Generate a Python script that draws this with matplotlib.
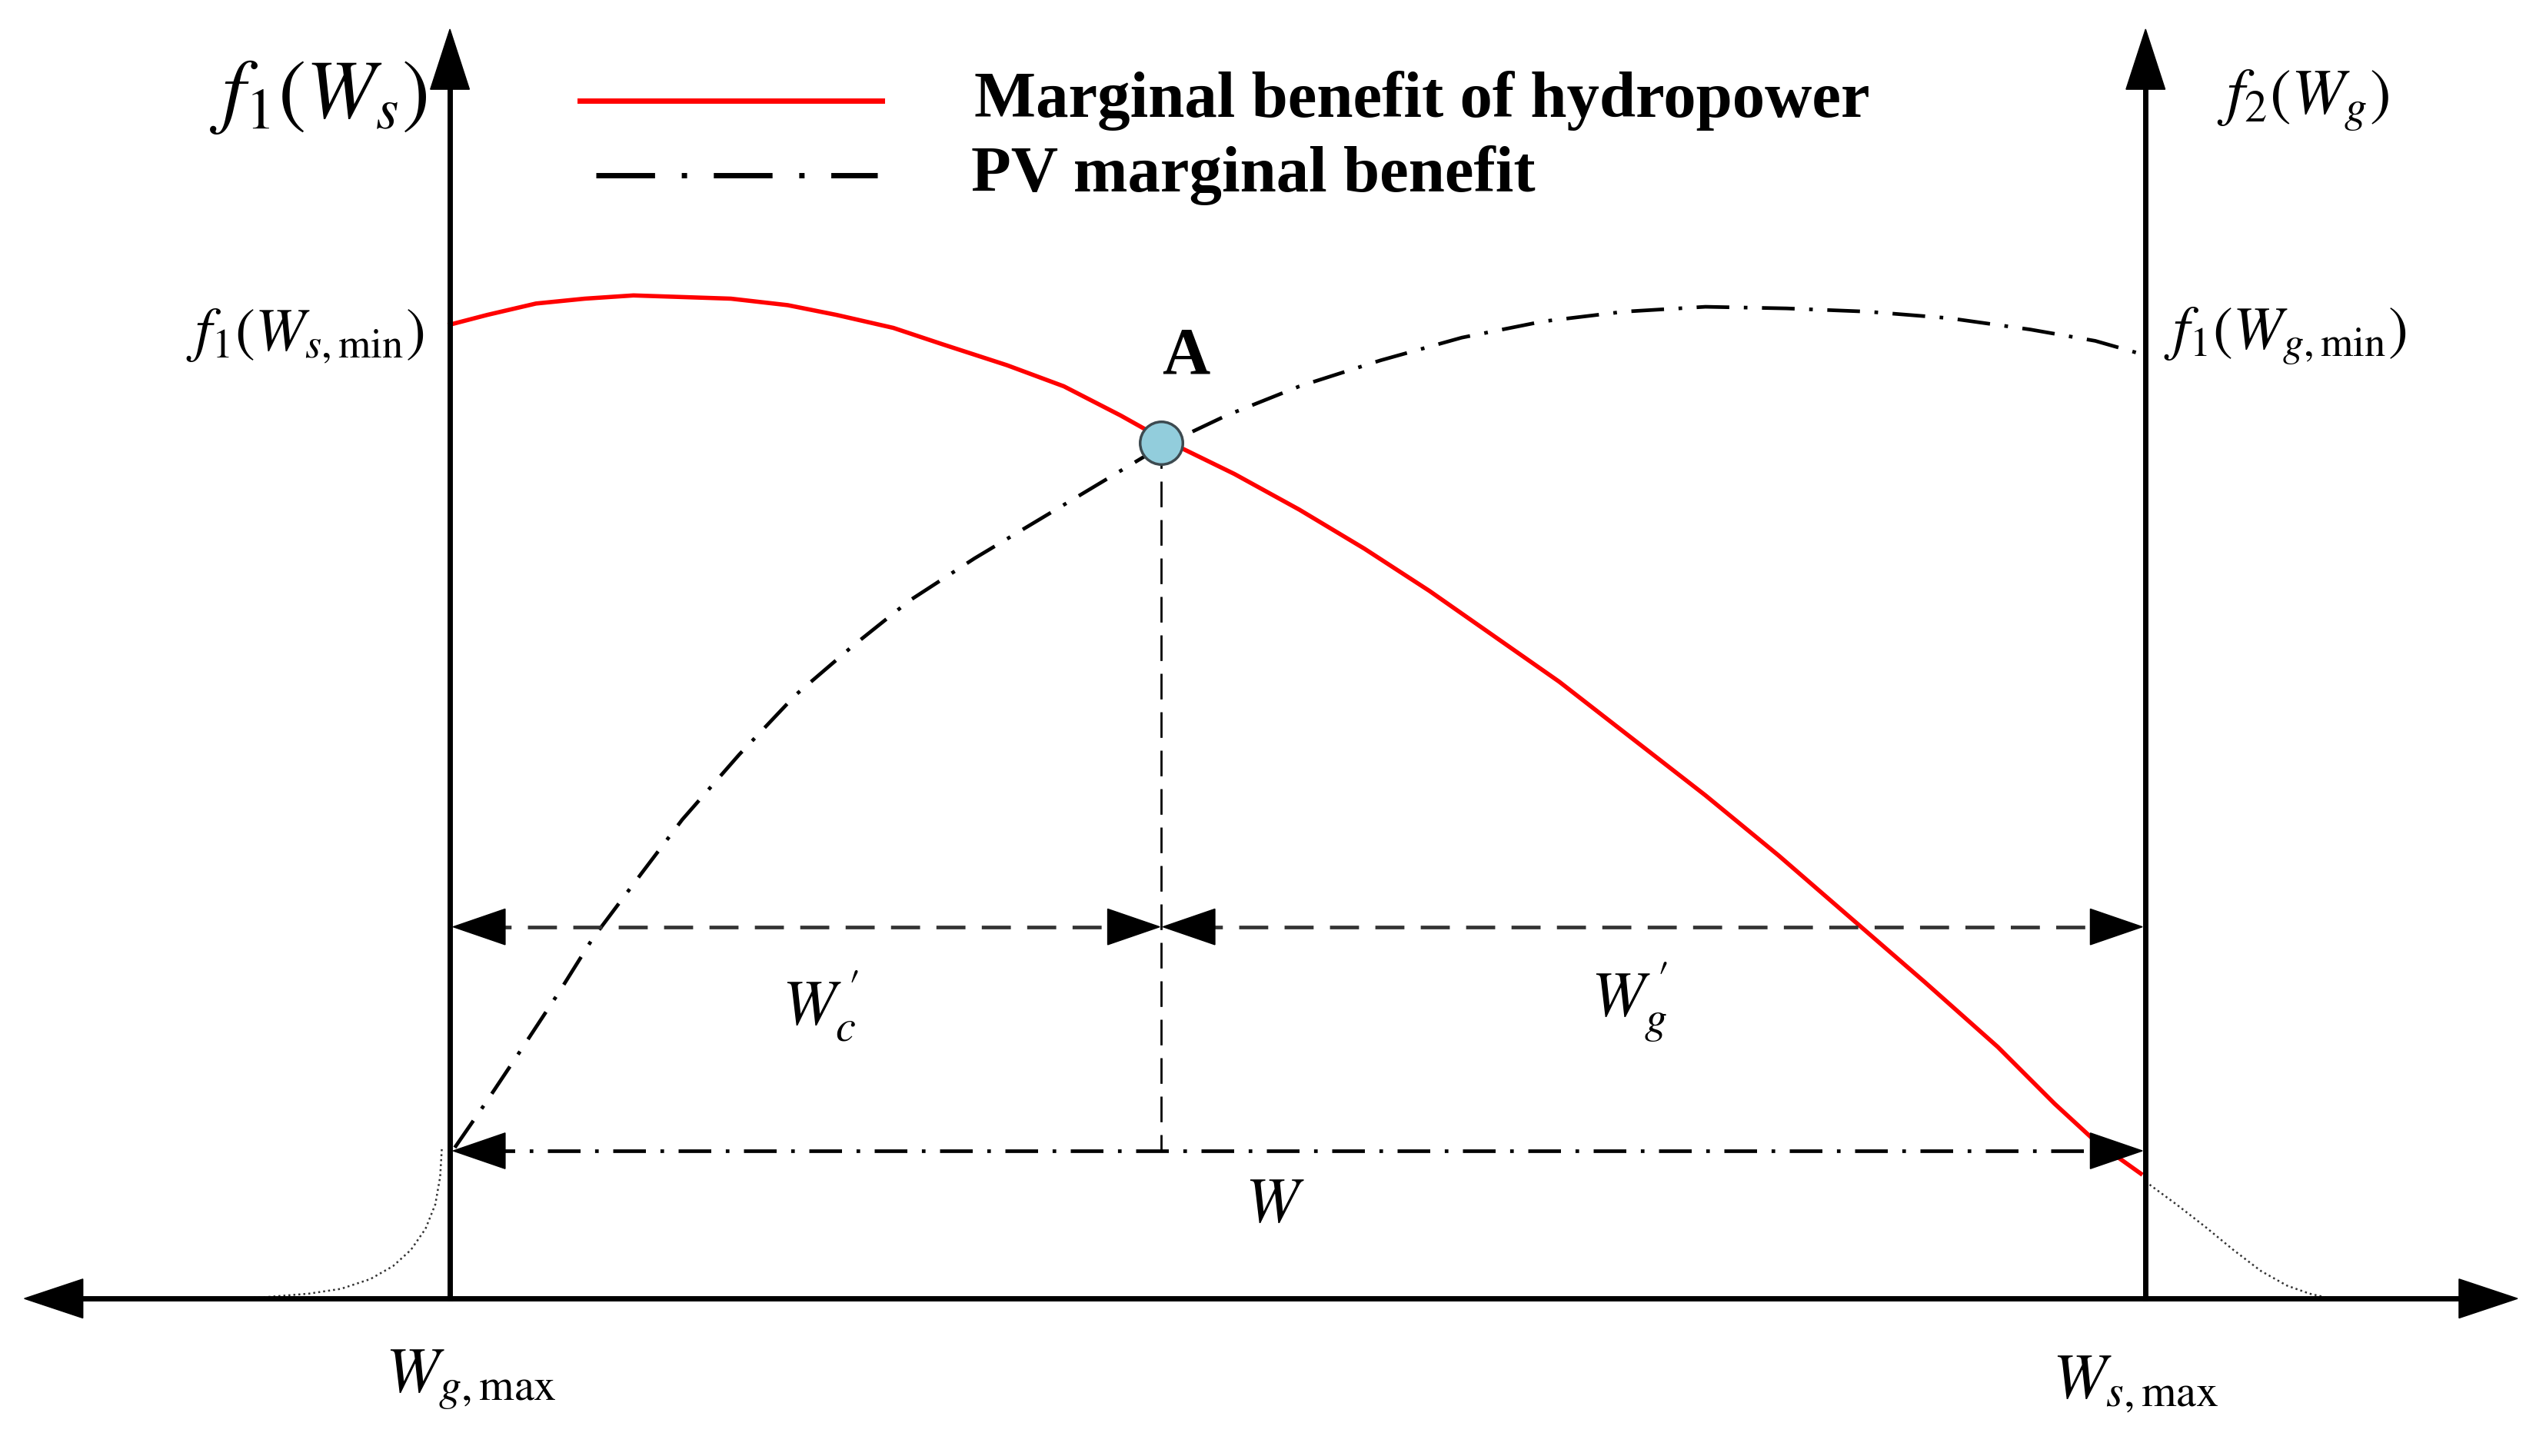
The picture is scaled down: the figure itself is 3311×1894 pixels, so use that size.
import numpy as np
import matplotlib.pyplot as plt
from matplotlib.patches import Polygon

plt.rcParams['mathtext.fontset'] = 'stix'
plt.rcParams['font.family'] = ['Liberation Serif', 'DejaVu Serif']

# schematic drawn in the reference's own pixel frame (1568 x 897, y down)
W_FRAME, H_FRAME = 1568, 897
x_left_axis = 277
x_right_axis = 1321
y_base = 800

# marginal benefit of hydropower (red)
hydro_x = [277, 300, 330, 360, 390, 420, 450, 485, 515, 550, 580, 620, 655, 690, 715,
           760, 800, 840, 880, 920, 960, 1005, 1050, 1095, 1140, 1185, 1230, 1265, 1290, 1318]
hydro_y = [200, 194, 187, 184, 182, 183, 184, 188, 194, 202, 212, 225, 238, 256, 270,
           292, 314, 338, 364, 392, 420, 455, 490, 527, 566, 605, 645, 680, 703, 723]

# PV marginal benefit (black dash-dot)
pv_x = [280, 300, 320, 345, 365, 395, 420, 455, 490, 525, 560, 600, 640, 680, 715,
        755, 800, 850, 900, 950, 1000, 1050, 1100, 1150, 1200, 1250, 1290, 1318]
pv_y = [707, 678, 648, 610, 578, 538, 505, 465, 428, 398, 370, 344, 320, 296, 275,
        256, 238, 222, 208, 198, 192, 189, 190, 192, 196, 203, 210, 218]

# dotted tails outside the axes
tail_left_x = [272, 271, 268, 262, 253, 242, 228, 210, 190, 165, 140, 115]
tail_left_y = [708, 725, 742, 757, 770, 780, 788, 794, 797, 799, 800, 800]
tail_right_x = [1321, 1340, 1358, 1375, 1392, 1408, 1422, 1435, 1450, 1470]
tail_right_y = [728, 742, 756, 770, 783, 792, 797, 800, 800, 800]

point_a = (715, 273)
y_split = 571      # W_c' / W_g' arrows
y_total = 709      # W arrow

dashdot = (9, 4, 1, 4)

fig = plt.figure(figsize=(33.12, 18.94), dpi=100)
ax = fig.add_axes([0, 0, 1, 1])
ax.set_xlim(0, W_FRAME)
ax.set_ylim(H_FRAME, 0)
ax.axis('off')


def head(x, y, dx, dy, L=35, W=12):
    # filled triangular arrow head, tip at (x, y)
    bx, by = x - L * dx, y - L * dy
    px, py = -dy, dx
    tri = Polygon([[x, y], [bx + W * px, by + W * py], [bx - W * px, by - W * py]],
                  closed=True, color='black', zorder=6)
    ax.add_patch(tri)


# axes
ax.plot([x_left_axis, x_left_axis], [y_base, 50], color='black', lw=5, zorder=4)
ax.plot([x_right_axis, x_right_axis], [y_base, 50], color='black', lw=5, zorder=4)
ax.plot([45, 1520], [y_base, y_base], color='black', lw=5, zorder=4)
head(x_left_axis, 18, 0, -1, L=37, W=12)
head(x_right_axis, 18, 0, -1, L=37, W=12)
head(15, y_base, -1, 0, L=36, W=12)
head(1550, y_base, 1, 0, L=36, W=12)

# curves
ax.plot(hydro_x, hydro_y, color='#ff0000', lw=4, zorder=3)
ax.plot(pv_x, pv_y, color='black', lw=3.4, dashes=dashdot, zorder=3)
ax.plot(tail_left_x, tail_left_y, color='#333333', lw=1.8, dashes=(1, 1.6), zorder=2)
ax.plot(tail_right_x, tail_right_y, color='#333333', lw=1.8, dashes=(1, 1.6), zorder=2)

# intersection point A
ax.plot([point_a[0], point_a[0]], [point_a[1], y_total], color='black', lw=2,
        dashes=(12, 6), zorder=2)
ax.plot(*point_a, 'o', ms=40, mfc='#92cddc', mec='#3d4a50', mew=2.5, zorder=7)
ax.text(730, 220, 'A', fontsize=62, fontweight='bold', ha='center', va='center')

# W_c' and W_g' span arrows
ax.plot([x_left_axis + 20, point_a[0] - 20], [y_split, y_split], color='#333333', lw=3.4,
        dashes=(8, 4.5), zorder=3)
ax.plot([point_a[0] + 20, x_right_axis - 20], [y_split, y_split], color='#333333', lw=3.4,
        dashes=(8, 4.5), zorder=3)
head(x_left_axis + 2, y_split, -1, 0, L=32, W=11)
head(point_a[0] - 1, y_split, 1, 0, L=32, W=11)
head(point_a[0] + 1, y_split, -1, 0, L=32, W=11)
head(x_right_axis - 2, y_split, 1, 0, L=32, W=11)

# total W arrow
ax.plot([x_left_axis + 20, x_right_axis - 20], [y_total, y_total], color='black', lw=3.4,
        dashes=dashdot, zorder=3)
head(x_left_axis + 2, y_total, -1, 0, L=32, W=11)
head(x_right_axis - 2, y_total, 1, 0, L=32, W=11)

# labels
ax.text(196, 60, r'$f_1(W_s)$', fontsize=78, ha='center', va='center')
ax.text(188, 207, r'$f_1(W_{s,\mathrm{min}})$', fontsize=56, ha='center', va='center')
ax.text(1418, 62, r'$f_2(W_g)$', fontsize=60, ha='center', va='center')
ax.text(1407, 207, r'$f_1(W_{g,\mathrm{min}})$', fontsize=56, ha='center', va='center')
ax.text(290, 850, r'$W_{g,\mathrm{max}}$', fontsize=60, ha='center', va='center')
ax.text(1315, 853, r'$W_{s,\mathrm{max}}$', fontsize=60, ha='center', va='center')
ax.text(505, 620, r"$W_c^{\,\prime}$", fontsize=60, ha='center', va='center')
ax.text(1003, 618, r"$W_g^{\,\prime}$", fontsize=60, ha='center', va='center')
ax.text(785, 743, r'$W$', fontsize=60, ha='center', va='center')

# legend
ax.plot([357, 543], [62, 62], color='#ff0000', lw=5)
ax.plot([367, 540], [108, 108], color='black', lw=5, dashes=(11, 5, 1, 5))
ax.text(600, 62, 'Marginal benefit of hydropower', fontsize=61, fontweight='bold',
        ha='left', va='center')
ax.text(598, 108, 'PV marginal benefit', fontsize=61, fontweight='bold',
        ha='left', va='center')

fig.savefig('out.png', dpi=100, facecolor='white')
